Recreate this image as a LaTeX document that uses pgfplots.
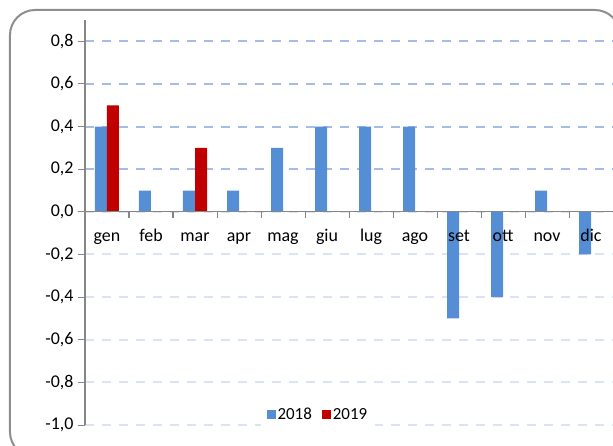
\documentclass[border=0pt]{standalone}
\usepackage{pgfplots}
\pgfplotsset{compat=1.18}
\usepackage{fontspec}
\setmainfont{Carlito}
\definecolor{bblue}{HTML}{558ED5}
\definecolor{bred}{HTML}{C00000}
\definecolor{gridup}{HTML}{A3BDE6}
\definecolor{griddown}{HTML}{DAE3F3}
\definecolor{axgray}{HTML}{868686}
\definecolor{framegray}{HTML}{8E8E8E}
\pgfplotsset{
  common/.style={
    scale only axis,
    width=528bp, height=405bp,
    xmin=-0.5, xmax=11.5,
    ymin=-1.0, ymax=0.9,
    axis x line=middle,
    axis y line=left,
    axis line style={-, axgray, line width=1bp},
    xtick={0,...,11},
    minor x tick num=1,
    major x tick style={draw=none},
    minor x tick style={axgray, line width=1bp},
    minor tick length=6bp,
    major tick length=7bp,
    tick align=outside,
    y tick style={axgray, line width=1bp},
    yticklabel style={font=\fontsize{18}{21}\selectfont, xshift=-1bp},
    xticklabel style={font=\fontsize{18}{21}\selectfont, text height=13bp, text depth=4bp, yshift=-6bp},
    /pgf/number format/.cd, fixed, fixed zerofill, precision=1, use comma, assume math mode=true,
    /pgfplots/.cd,
  }
}
\begin{document}
\begin{tikzpicture}
\begin{axis}[
  common,
  xticklabels={,,,,,,,,,,,},
  ytick={-1,-0.8,-0.6,-0.4,-0.2,0},
  extra y ticks={0.2,0.4,0.6,0.8},
  extra y tick style={grid style={gridup, line width=2bp, dash pattern=on 9bp off 8bp}},
  ymajorgrids,
  grid style={griddown, line width=2bp, dash pattern=on 9bp off 8bp},
  ybar, bar width=12bp,
  legend style={at={(0.441,0.025)}, anchor=center, draw=none, fill=white,
    legend columns=2, font=\fontsize{17}{20}\selectfont, inner xsep=6bp, inner ysep=3bp,
    /tikz/every even column/.append style={column sep=8bp}},
  legend image code/.code={\fill[#1] (0bp,-4.5bp) rectangle (9bp,4.5bp);},
]
\addplot[fill=bblue, draw=none, bar shift=-6bp] coordinates {
 (0,0.4) (1,0.1) (2,0.1) (3,0.1) (4,0.3) (5,0.4) (6,0.4) (7,0.4) (8,-0.5) (9,-0.4) (10,0.1) (11,-0.2)};
\addplot[fill=bred, draw=none, bar shift=6bp] coordinates {(0,0.5) (2,0.3)};
\legend{2018,2019}
\end{axis}
\begin{axis}[
  common,
  xticklabels={gen,feb,mar,apr,mag,giu,lug,ago,set,ott,nov,dic},
  ytick=\empty,
]
\end{axis}
\begin{scope}
\clip (-85bp,-21bp) rectangle (528bp,425bp);
\draw[rounded corners=25bp, framegray, line width=2bp] (-75bp,-32bp) rectangle (535bp,415bp);
\end{scope}
\pgfresetboundingbox
\path[use as bounding box] (-85bp,-21bp) rectangle (528bp,425bp);
\end{tikzpicture}
\end{document}
